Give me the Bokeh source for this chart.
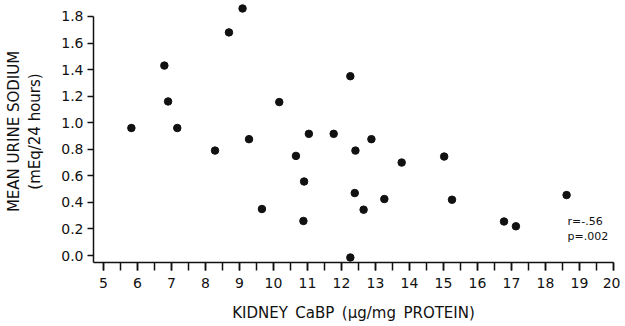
from bokeh.plotting import figure
from bokeh.models import SingleIntervalTicker, PrintfTickFormatter, Label, Range1d
from bokeh.embed import file_html
from bokeh.resources import INLINE

# Data
kidney_cabp = [5.82, 6.79, 6.90, 7.17, 8.28, 8.69, 9.09, 9.28, 9.66, 10.17,
               10.66, 10.90, 10.88, 11.04, 11.77, 12.26, 12.41, 12.88, 13.77,
               15.02, 12.39, 13.26, 15.25, 12.65, 18.62, 16.78, 17.13, 12.26]
urine_sodium = [0.96, 1.43, 1.16, 0.96, 0.79, 1.68, 1.86, 0.876, 0.35, 1.155,
                0.75, 0.557, 0.26, 0.916, 0.916, 1.35, 0.79, 0.876, 0.70,
                0.745, 0.47, 0.425, 0.42, 0.345, 0.455, 0.256, 0.22, -0.015]
stats_lines = ["r=-.56", "p=.002"]
x_label = "KIDNEY\u2002CaBP\u2002(\u03bcg/mg\u2002PROTEIN)"
y_label = "MEAN URINE SODIUM\n(mEq/24 hours)"

FONT = "DejaVu Sans"
INK = "#111111"

p = figure(width=620, height=324, output_backend="svg", toolbar_location=None,
           x_range=Range1d(4.706, 20.0), y_range=Range1d(-0.0527, 1.92),
           min_border_left=93, min_border_right=7, min_border_top=0,
           min_border_bottom=62)
p.outline_line_color = None
p.xgrid.visible = False
p.ygrid.visible = False
p.background_fill_color = "white"
p.border_fill_color = "white"

p.scatter(kidney_cabp, urine_sodium, size=7.5, color=INK)

xa = p.xaxis[0]
xa.ticker = SingleIntervalTicker(interval=1, num_minor_ticks=2)
xa.bounds = (4.706, 20.0)
xa.major_tick_in = 0
xa.major_tick_out = 8
xa.minor_tick_in = 0
xa.minor_tick_out = 8
xa.axis_line_width = 1.5
xa.major_tick_line_width = 1.5
xa.minor_tick_line_width = 1.5
xa.axis_line_color = INK
xa.major_tick_line_color = INK
xa.minor_tick_line_color = INK
xa.major_label_text_font = FONT
xa.major_label_text_font_size = "14px"
xa.major_label_text_color = INK
xa.major_label_standoff = 7
xa.axis_label = x_label
xa.axis_label_text_font = FONT
xa.axis_label_text_font_size = "15px"
xa.axis_label_text_font_style = "normal"
xa.axis_label_text_color = INK
xa.axis_label_standoff = 13

ya = p.yaxis[0]
ya.ticker = SingleIntervalTicker(interval=0.2, num_minor_ticks=0)
ya.formatter = PrintfTickFormatter(format="%.1f")
ya.bounds = (-0.0527, 1.8)
ya.major_tick_in = 0
ya.major_tick_out = 6
ya.minor_tick_line_color = None
ya.axis_line_width = 1.5
ya.major_tick_line_width = 1.5
ya.axis_line_color = INK
ya.major_tick_line_color = INK
ya.major_label_text_font = FONT
ya.major_label_text_font_size = "14px"
ya.major_label_text_color = INK
ya.major_label_standoff = 4
ya.axis_label = y_label
ya.axis_label_text_font = FONT
ya.axis_label_text_font_size = "15px"
ya.axis_label_text_font_style = "normal"
ya.axis_label_text_color = INK
ya.axis_label_standoff = 14

for i, t in enumerate(stats_lines):
    p.add_layout(Label(x=18.65, y=0.256 - i * 0.113, text=t, text_font=FONT,
                       text_font_size="11px", text_color=INK,
                       text_baseline="middle"))

open("out.html", "w").write(file_html(p, INLINE))
